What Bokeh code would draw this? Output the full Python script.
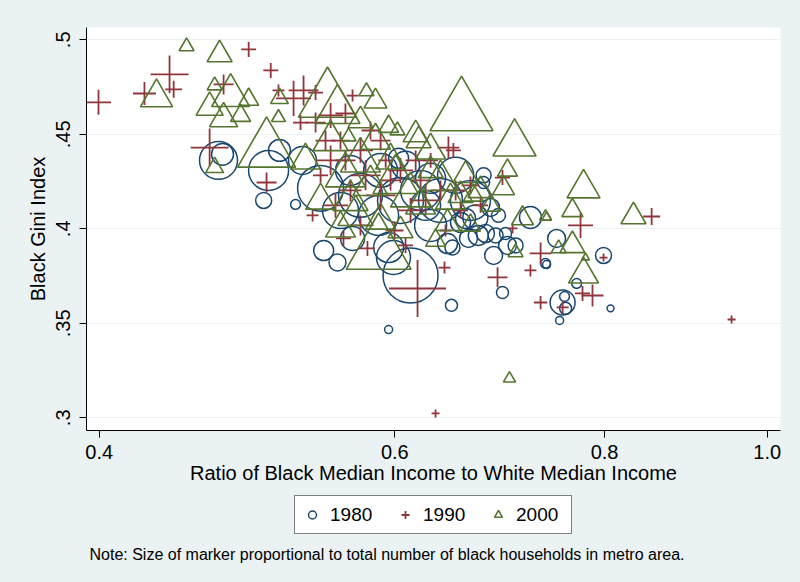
import numpy as np
from bokeh.plotting import figure
from bokeh.layouts import column
from bokeh.models import (ColumnDataSource, Range1d, FixedTicker, Legend,
                          LegendItem, Label)
from bokeh.embed import file_html
from bokeh.resources import INLINE

# ---------------- data ----------------
ratio_1980 = [0.4711, 0.4737, 0.5012, 0.5046, 0.5122, 0.5236, 0.5419, 0.5286, 0.5442, 0.5546,
              0.6131, 0.5949, 0.5989, 0.5569, 0.5724, 0.5868, 0.6047, 0.6216, 0.6388, 0.6522,
              0.6656, 0.6302, 0.5646, 0.5884, 0.6089, 0.6777, 0.6842, 0.6701, 0.6611, 0.6566,
              0.6728, 0.6638, 0.6795, 0.6890, 0.6871, 0.6984, 0.7003, 0.7081, 0.7227, 0.6494,
              0.6450, 0.7378, 0.6955, 0.6485, 0.7553, 0.6777, 0.7491, 0.7989, 0.7389, 0.7700,
              0.7573, 0.7584, 0.7522, 0.8066, 0.5949, 0.6259, 0.6302, 0.6917, 0.6031, 0.5662]
gini_1980 = [0.4362, 0.4394, 0.4150, 0.4309, 0.4415, 0.4129, 0.4214, 0.4362, 0.3885, 0.3822,
             0.3753, 0.3901, 0.3848, 0.4097, 0.4177, 0.4071, 0.4150, 0.4203, 0.4150, 0.4283,
             0.4150, 0.4018, 0.4309, 0.4309, 0.4336, 0.4245, 0.4113, 0.4060, 0.4055, 0.4034,
             0.3965, 0.3949, 0.3975, 0.3965, 0.3859, 0.3975, 0.3912, 0.3912, 0.4060, 0.3901,
             0.3922, 0.3817, 0.3663, 0.3595, 0.3610, 0.4283, 0.3949, 0.3859, 0.3811, 0.3711,
             0.3642, 0.3579, 0.3515, 0.3579, 0.3467, 0.4124, 0.4267, 0.4071, 0.4373, 0.3949]
hh_1980 = [90, 30, 16, 100, 30, 6, 132, 49, 25, 18,
           189, 56, 72, 81, 121, 100, 132, 100, 121, 81,
           100, 64, 56, 72, 49, 9, 20, 39, 25, 25,
           25, 20, 20, 14, 20, 9, 20, 14, 30, 14,
           25, 6, 9, 9, 39, 14, 20, 16, 4, 6,
           6, 9, 4, 3, 4, 56, 56, 12, 25, 36]

ratio_1990 = [0.3996, 0.4256, 0.4405, 0.4430, 0.4744, 0.4910, 0.5061, 0.4654, 0.5032, 0.5115,
              0.5222, 0.5294, 0.5382, 0.5382, 0.5494, 0.5607, 0.5662, 0.5272, 0.5360, 0.5592,
              0.5779, 0.6190, 0.6423, 0.6432, 0.6908, 0.7227, 0.7328, 0.7328, 0.7553, 0.7762,
              0.7869, 0.7741, 0.8534, 0.7989, 0.9523, 0.6345, 0.7052, 0.6458, 0.6502, 0.6955,
              0.5724, 0.5884, 0.5494, 0.6047, 0.6216, 0.5646, 0.5884, 0.6131, 0.6388, 0.6656,
              0.5419, 0.5998, 0.5724, 0.6302, 0.6566, 0.5925, 0.5569,
              0.5531, 0.5764, 0.5965, 0.6174, 0.6259, 0.6522, 0.5607, 0.6749, 0.5803, 0.6089,
              0.5456]
gini_1990 = [0.4669, 0.4716, 0.4817, 0.4738, 0.4764, 0.4949, 0.4838, 0.4430, 0.4245, 0.4732,
             0.4690, 0.4732, 0.4721, 0.4562, 0.4600, 0.4610, 0.4705, 0.4562, 0.4071, 0.3949,
             0.3896, 0.3684, 0.3795, 0.3991, 0.3743, 0.3780, 0.3870, 0.3610, 0.3584, 0.3658,
             0.3647, 0.4018, 0.4065, 0.3848, 0.3520, 0.3023, 0.4002, 0.4430, 0.4415, 0.4271,
             0.4415, 0.4467, 0.4362, 0.4309, 0.4256, 0.4203, 0.4177, 0.4097, 0.4203, 0.4230,
             0.4283, 0.3991, 0.4018, 0.4362, 0.4097, 0.4362, 0.4467,
             0.4124, 0.4283, 0.4256, 0.4362, 0.4150, 0.4203, 0.4362, 0.4124, 0.4520, 0.3912,
             0.4467]
hh_1990 = [39, 33, 90, 18, 25, 14, 14, 90, 25, 9,
           77, 56, 14, 25, 39, 25, 9, 14, 9, 14,
           14, 203, 9, 9, 25, 9, 30, 11, 9, 14,
           30, 39, 18, 4, 4, 4, 6, 30, 14, 14,
           39, 25, 56, 39, 25, 30, 56, 39, 25, 20,
           14, 20, 25, 14, 14, 14, 20,
           39, 56, 25, 25, 56, 25, 25, 14, 20, 14,
           25]

ratio_2000 = [0.4509, 0.4718, 0.4327, 0.4686, 0.4790, 0.4654, 0.4744, 0.4856, 0.4910, 0.4686,
              0.5032, 0.5122, 0.5115, 0.5471, 0.5546, 0.5771, 0.5843, 0.5949, 0.6022, 0.6174,
              0.5631, 0.6575, 0.7071, 0.7003, 0.6199, 0.6302, 0.5868, 0.5569, 0.6965, 0.7149,
              0.7378, 0.7081, 0.6683, 0.6450, 0.7773, 0.7655, 0.8324, 0.7389, 0.7512, 0.7655,
              0.7773, 0.7794, 0.7022, 0.5724, 0.6006, 0.5646, 0.5494, 0.6216, 0.6388, 0.6566,
              0.5884, 0.5308, 0.6749, 0.5724,
              0.5607, 0.5803, 0.5965, 0.6131, 0.6302, 0.6476, 0.6611, 0.6047, 0.5685, 0.5419,
              0.6842, 0.5843, 0.6345, 0.6656]
gini_2000 = [0.4965, 0.4922, 0.4695, 0.4758, 0.4705, 0.4642, 0.4583, 0.4599, 0.4684, 0.4325,
             0.4415, 0.4690, 0.4589, 0.4679, 0.4626, 0.4727, 0.4674, 0.4541, 0.4520, 0.4499,
             0.4488, 0.4615, 0.4451, 0.4309, 0.4467, 0.4415, 0.3885, 0.4002, 0.4214, 0.4055,
             0.4065, 0.3875, 0.4177, 0.4029, 0.4214, 0.4097, 0.4065, 0.4060, 0.3896, 0.3912,
             0.3759, 0.3848, 0.3208, 0.4362, 0.4256, 0.4150, 0.4467, 0.4124, 0.4256, 0.4177,
             0.4044, 0.4362, 0.4203, 0.4573,
             0.4283, 0.4230, 0.4362, 0.4177, 0.4309, 0.4150, 0.4283, 0.3991, 0.4071, 0.4150,
             0.4124, 0.4467, 0.3938, 0.4018]
hh_2000 = [14, 39, 64, 14, 90, 46, 49, 25, 25, 20,
           210, 20, 12, 210, 127, 14, 33, 25, 14, 39,
           14, 248, 116, 25, 39, 56, 264, 56, 30, 30,
           9, 14, 25, 39, 68, 28, 39, 6, 14, 39,
           56, 4, 9, 100, 127, 77, 77, 56, 77, 39,
           56, 56, 39, 39,
           100, 77, 56, 100, 39, 56, 39, 39, 77, 56,
           25, 56, 25, 25]

years = ["1980", "1990", "2000"]
x_ticks = [0.4, 0.6, 0.8, 1.0]
x_tick_labels = ["0.4", "0.6", "0.8", "1.0"]
y_ticks = [0.3, 0.35, 0.4, 0.45, 0.5]
y_tick_labels = [".3", ".35", ".4", ".45", ".5"]

x_title = "Ratio of Black Median Income to White Median Income"
y_title = "Black Gini Index"
note_text = "Note: Size of marker proportional to total number of black households in metro area."

# ---------------- styling ----------------
FONT = "Liberation Sans"
BG = "#eaf2f3"
NAVY = "#1a476f"
MAROON = "#90353b"
GREEN = "#55752f"
STYLES = [dict(marker="circle", fill_color=None, line_color=NAVY, line_width=1.5),
          dict(marker="cross", line_color=MAROON, line_width=1.8),
          dict(marker="triangle", fill_color=None, line_color=GREEN, line_width=1.6)]


def src(r, g, hh):
    return ColumnDataSource(dict(x=r, y=g, size=4.0 * np.sqrt(np.array(hh, dtype=float))))


p = figure(width=800, height=492, x_axis_type="log",
           x_range=Range1d(0.39307, 1.01841), y_range=Range1d(0.29328, 0.50651),
           output_backend="svg", toolbar_location=None, title=None,
           min_border_left=86, min_border_right=20, min_border_top=27, min_border_bottom=62)
p.background_fill_color = "white"
p.border_fill_color = BG
p.outline_line_color = None

series = [(ratio_1980, gini_1980, hh_1980), (ratio_1990, gini_1990, hh_1990),
          (ratio_2000, gini_2000, hh_2000)]
for (r, g, hh), st in zip(series, STYLES):
    p.scatter("x", "y", size="size", source=src(r, g, hh), **st)

# axes
for ax in (p.xaxis[0], p.yaxis[0]):
    ax.axis_line_color = "black"
    ax.axis_line_width = 1
    ax.major_tick_line_color = "black"
    ax.major_tick_out = 7
    ax.major_tick_in = 0
    ax.minor_tick_line_color = None
    ax.major_label_text_font = FONT
    ax.major_label_text_font_size = "20px"
    ax.major_label_text_color = "black"
    ax.axis_label_text_font = FONT
    ax.axis_label_text_font_size = "20px"
    ax.axis_label_text_font_style = "normal"
    ax.axis_label_text_color = "black"

xa = p.xaxis[0]
xa.ticker = FixedTicker(ticks=x_ticks)
xa.major_label_overrides = dict(zip(x_ticks, x_tick_labels))
xa.axis_label = x_title
xa.major_label_standoff = 7
xa.axis_label_standoff = 0

ya = p.yaxis[0]
ya.ticker = FixedTicker(ticks=y_ticks)
ya.major_label_overrides = dict(zip(y_ticks, y_tick_labels))
ya.major_label_orientation = "vertical"
ya.axis_label = y_title
ya.major_label_standoff = 9
ya.axis_label_standoff = 5

p.xgrid.visible = False
p.ygrid.grid_line_color = BG
p.ygrid.grid_line_width = 1.2

# ---------------- legend + note strip ----------------
p2 = figure(width=800, height=90, x_range=Range1d(2, 3), y_range=Range1d(2, 3),
            output_backend="svg", toolbar_location=None, title=None,
            x_axis_location=None, y_axis_location=None,
            min_border_left=0, min_border_right=0, min_border_top=0, min_border_bottom=0)
p2.background_fill_color = BG
p2.border_fill_color = BG
p2.outline_line_color = None
p2.grid.visible = False

# legend proxies: the same series, drawn outside this strip's visible range
proxies = [p2.scatter(x=r, y=g, size=8, **st) for (r, g, hh), st in zip(series, STYLES)]
legend = Legend(items=[LegendItem(label=yr, renderers=[rr]) for yr, rr in zip(years, proxies)],
                orientation="horizontal", location=(208, 48),
                padding=7, spacing=17, glyph_width=20, glyph_height=23,
                label_standoff=8, label_width=48, margin=0,
                border_line_color="black", border_line_width=1,
                background_fill_color="white", background_fill_alpha=1.0,
                label_text_font=FONT, label_text_font_size="19px",
                label_text_color="black")
p2.add_layout(legend)

note = Label(x=3, y=28, x_units="screen", y_units="screen", text=note_text,
             text_font=FONT, text_font_size="16px", text_baseline="alphabetic",
             text_color="black")
p2.add_layout(note)

layout = column(p, p2, spacing=0, styles={"background-color": BG})
open("out.html", "w").write(file_html(layout, INLINE))
